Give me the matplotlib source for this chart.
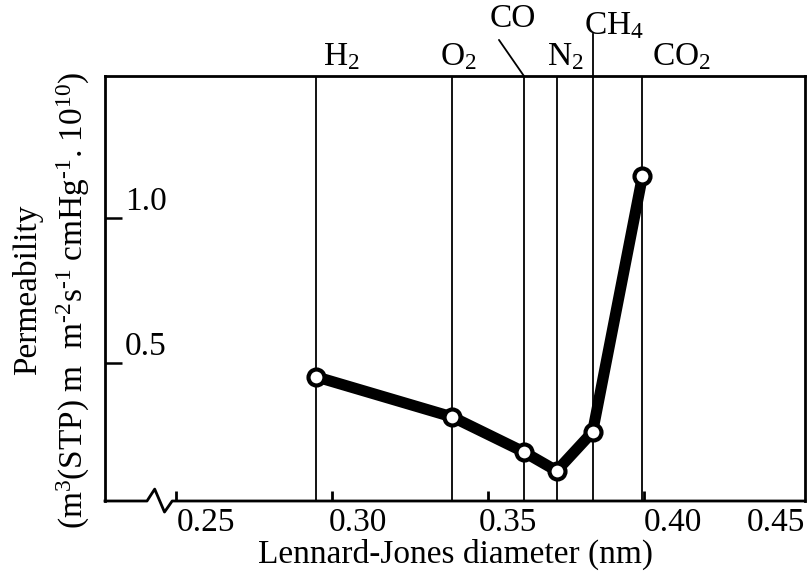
import matplotlib
matplotlib.use("Agg")
import matplotlib.pyplot as plt
from matplotlib.transforms import ScaledTranslation, blended_transform_factory

plt.rcParams['font.family'] = ['Liberation Serif', 'DejaVu Serif']
plt.rcParams['mathtext.fontset'] = 'custom'
plt.rcParams['mathtext.rm'] = 'Liberation Serif'
plt.rcParams['mathtext.it'] = 'Liberation Serif:italic'
plt.rcParams['mathtext.default'] = 'regular'

# gases, Lennard-Jones diameter (nm), permeability (x 1e-10)
gases = [r'H$_2$', r'O$_2$', 'CO', r'N$_2$', r'CH$_4$', r'CO$_2$']
diameter = [0.295, 0.3385, 0.3615, 0.372, 0.3835, 0.3995]
permeability = [0.452, 0.314, 0.193, 0.128, 0.262, 1.145]

x_ticks = [0.25, 0.30, 0.35, 0.40, 0.45]
x_ticklabels = ['0.25', '0.30', '0.35', '0.40', '0.45']
y_ticks = [0.5, 1.0]
y_ticklabels = ['0.5', '1.0']

FS = 24

fig = plt.figure(figsize=(8.12, 5.75), dpi=100)
ax = fig.add_axes([0.1293, 0.1287, 0.8621, 0.7391])

# vertical lines for each gas
for d in diameter:
    ax.axvline(d, color='black', lw=1.3, zorder=1)

ax.plot(diameter, permeability, color='black', lw=8, zorder=2,
        solid_joinstyle='round', solid_capstyle='round')
ax.plot(diameter, permeability, linestyle='none', marker='o', ms=11.5,
        mfc='white', mec='black', mew=3, zorder=3)

ax.set_xlim(0.2272, 0.4516)
ax.set_ylim(0.024, 1.49)

for s in ax.spines.values():
    s.set_linewidth(2.0)
ax.spines['bottom'].set_visible(False)

# bottom axis with a break
tb = ax.transAxes
ax.plot([0, 0.06, 0.071, 0.085, 0.096, 0.1, 1.0],
        [0, 0, 0.028, -0.026, 0.0, 0, 0],
        color='black', lw=2.0, transform=tb, clip_on=False, zorder=4)

ax.set_xticks(x_ticks)
ax.set_xticklabels(x_ticklabels, fontsize=FS)
ax.tick_params(axis='x', direction='in', length=7, width=2.0, pad=5)
ax.xaxis.get_major_ticks()[-1].tick1line.set_visible(False)
shifts = [30, 26, 20, 29, -24]
for lbl, dx in zip(ax.get_xticklabels(), shifts):
    lbl.set_transform(lbl.get_transform() + ScaledTranslation(dx / 100, 0, fig.dpi_scale_trans))

ax.set_yticks(y_ticks)
ax.set_yticklabels(y_ticklabels, fontsize=FS)
ax.tick_params(axis='y', direction='in', length=12, width=1.8, pad=0)
for lbl in ax.get_yticklabels():
    lbl.set_horizontalalignment('left')
    lbl.set_transform(lbl.get_transform() + ScaledTranslation(0.20, 0.20, fig.dpi_scale_trans))

# gas labels above the plot
bt = blended_transform_factory(ax.transData, ax.transAxes)
label_dx = [25, 6, -11, 9, 21, 39]
label_y = [1.010, 1.010, 1.098, 1.010, 1.082, 1.010]
for g, d, dx, yy in zip(gases, diameter, label_dx, label_y):
    ax.annotate(g, xy=(d, yy), xycoords=bt, xytext=(dx * 0.72, 0),
                textcoords='offset points', ha='center', va='bottom',
                fontsize=FS, annotation_clip=False)

# leader for CO and extension for CH4
ax.annotate('', xy=(diameter[2], 1.0), xycoords=bt,
            xytext=(-18, 26), textcoords='offset points',
            arrowprops=dict(arrowstyle='-', color='black', lw=1.3,
                            shrinkA=0, shrinkB=0), annotation_clip=False)
ax.plot([diameter[4], diameter[4]], [1.0, 1.10], color='black', lw=1.3,
        transform=bt, clip_on=False)

ax.set_xlabel('Lennard-Jones diameter (nm)', fontsize=FS, labelpad=0)

fig.text(28 / 812, 1 - 290 / 575, 'Permeability', rotation=90,
         ha='center', va='center', fontsize=FS)
fig.text(73 / 812, 1 - 300 / 575,
         r'(m$^{3}$(STP) m  m$^{\text{-}2}$s$^{\text{-}1}$ cmHg$^{\text{-}1}$. 10$^{10}$)',
         rotation=90, ha='center', va='center', fontsize=FS)

fig.savefig('out.png', dpi=100)
